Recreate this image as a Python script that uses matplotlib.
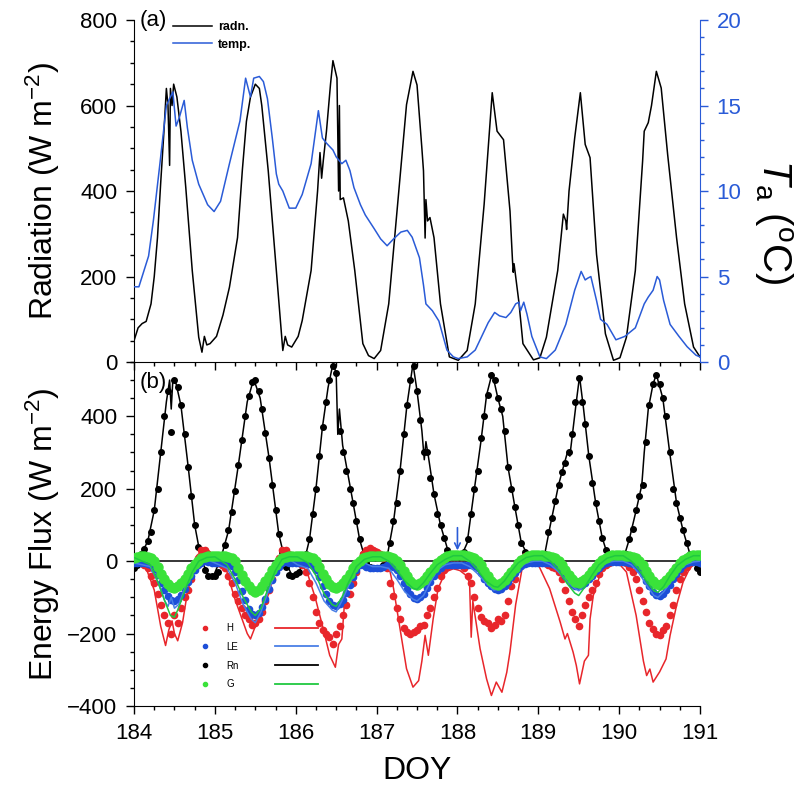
import numpy as np
import matplotlib
matplotlib.use('Agg')
import matplotlib.pyplot as plt
from matplotlib.ticker import MultipleLocator
from matplotlib.lines import Line2D

plt.rcParams['font.family'] = ['Liberation Sans', 'DejaVu Sans']
plt.rcParams['mathtext.fontset'] = 'custom'
plt.rcParams['mathtext.rm'] = 'Liberation Sans'
plt.rcParams['mathtext.it'] = 'Liberation Sans:italic'
plt.rcParams['mathtext.bf'] = 'Liberation Sans:bold'

# ---- panel (a): radiation (W m-2) and air temperature (C), (doy, value)
radn = [(184.00, 50), (184.05, 80), (184.10, 90), (184.15, 95), (184.21, 136), (184.25, 200),
        (184.29, 291), (184.33, 420), (184.37, 540), (184.40, 640), (184.42, 600), (184.44, 460),
        (184.45, 640), (184.47, 600), (184.49, 650), (184.53, 620), (184.58, 540), (184.64, 408),
        (184.72, 214), (184.80, 58), (184.84, 23), (184.87, 60), (184.90, 40), (184.94, 43),
        (185.02, 60), (185.10, 110), (185.18, 175), (185.28, 291), (185.34, 450), (185.39, 563),
        (185.44, 620), (185.50, 650), (185.55, 640), (185.58, 600), (185.66, 447), (185.76, 214),
        (185.84, 27), (185.87, 60), (185.90, 40), (185.95, 35), (186.03, 60), (186.08, 97),
        (186.19, 214), (186.27, 400), (186.30, 490), (186.32, 430), (186.34, 470), (186.38, 540),
        (186.43, 650), (186.46, 705), (186.51, 664), (186.53, 400), (186.54, 600), (186.55, 380),
        (186.59, 384), (186.65, 330), (186.73, 214), (186.83, 43), (186.90, 15), (186.97, 8),
        (187.05, 27), (187.15, 136), (187.26, 369), (187.37, 602), (187.45, 680), (187.50, 648),
        (187.56, 500), (187.58, 447), (187.60, 290), (187.61, 380), (187.63, 330), (187.66, 338),
        (187.71, 291), (187.79, 136), (187.90, 12), (188.01, 4), (188.12, 27), (188.22, 136),
        (188.33, 369), (188.43, 630), (188.49, 540), (188.53, 530), (188.57, 520), (188.65, 353),
        (188.68, 240), (188.69, 210), (188.70, 230), (188.76, 140), (188.81, 43), (188.94, 5),
        (189.02, 10), (189.10, 58), (189.24, 214), (189.31, 346), (189.34, 330), (189.35, 310),
        (189.38, 400), (189.45, 524), (189.52, 630), (189.58, 509), (189.64, 478), (189.72, 252),
        (189.83, 66), (189.93, 4), (190.01, 10), (190.09, 58), (190.20, 214), (190.29, 470),
        (190.31, 540), (190.36, 560), (190.40, 600), (190.46, 680), (190.52, 641), (190.60, 485),
        (190.71, 291), (190.81, 136), (190.92, 35), (191.00, 12)]

temp = [(184.00, 4.4), (184.06, 4.4), (184.12, 5.3), (184.18, 6.2), (184.24, 8.3), (184.32, 11.6),
        (184.40, 15.0), (184.45, 15.5), (184.48, 15.8), (184.52, 13.8), (184.56, 14.3), (184.62, 15.3),
        (184.66, 13.7), (184.72, 11.8), (184.80, 10.4), (184.91, 9.2), (184.99, 8.8), (185.07, 9.4),
        (185.18, 11.6), (185.31, 14.1), (185.38, 16.6), (185.44, 15.5), (185.48, 16.6), (185.55, 16.7),
        (185.60, 16.4), (185.65, 15.4), (185.71, 13.1), (185.76, 11.0), (185.79, 10.4), (185.84, 10.0),
        (185.92, 9.0), (186.00, 9.0), (186.08, 9.8), (186.19, 11.6), (186.28, 14.7), (186.33, 13.1),
        (186.38, 12.8), (186.46, 12.4), (186.50, 12.0), (186.57, 11.6), (186.62, 11.8), (186.67, 11.2),
        (186.72, 10.2), (186.80, 9.2), (186.86, 8.6), (186.97, 7.8), (187.05, 7.2), (187.13, 6.8),
        (187.21, 7.2), (187.30, 7.6), (187.38, 7.7), (187.44, 7.3), (187.53, 6.1), (187.58, 4.5),
        (187.61, 3.4), (187.69, 3.0), (187.77, 2.4), (187.87, 0.7), (187.95, 0.3), (188.01, 0.2),
        (188.12, 0.3), (188.22, 0.7), (188.30, 1.5), (188.38, 2.3), (188.46, 2.9), (188.52, 2.7),
        (188.60, 2.6), (188.66, 2.9), (188.72, 3.4), (188.76, 3.5), (188.78, 3.0), (188.82, 3.5),
        (188.86, 2.8), (188.92, 1.5), (189.02, 0.3), (189.10, 0.2), (189.21, 0.7), (189.34, 2.2),
        (189.45, 4.2), (189.53, 5.3), (189.58, 4.8), (189.61, 4.9), (189.65, 5.0), (189.72, 3.6),
        (189.77, 2.5), (189.85, 2.2), (189.96, 1.3), (190.07, 1.5), (190.20, 2.0), (190.31, 3.4),
        (190.36, 3.8), (190.42, 4.2), (190.47, 5.0), (190.50, 4.8), (190.55, 3.6), (190.63, 2.2),
        (190.74, 1.5), (190.84, 0.9), (190.95, 0.4), (191.00, 0.3)]

# ---- panel (b): hourly observations, DOY 184.00 ... 191.00
hours = 184 + np.arange(169) / 24.0

rn_obs = [-20, -10, 20, 34, 55, 80, 140, 200, 300, 400, 470, 356, 500, 480, 430, 350, 260, 180, 100, 40, 5, -25, -40, -42,
          -40, -30, 15, 45, 85, 135, 195, 265, 335, 400, 455, 495, 500, 470, 420, 355, 285, 210, 140, 75, 25, -15, -38, -40,
          -35, -30, -10, 20, 60, 130, 200, 290, 370, 440, 500, 540, 520, 360, 300, 250, 200, 160, 110, 60, 20, -5, -15, -20,
          -20, -20, -10, 5, 50, 110, 160, 250, 350, 430, 500, 540, 470, 390, 300, 300, 230, 185, 130, 100, 65, 30, 18, 16,
          15, 15, 25, 60, 130, 200, 250, 340, 400, 460, 515, 500, 450, 420, 360, 260, 200, 150, 100, 50, 25, 15, 12, 12,
          12, 12, 20, 80, 120, 165, 210, 245, 270, 300, 350, 440, 505, 440, 380, 290, 215, 160, 110, 65, 30, 15, 5, 5,
          5, 5, 20, 60, 90, 140, 180, 210, 330, 430, 490, 513, 490, 450, 400, 300, 200, 160, 120, 85, 50, 20, 0, -20,
          -30]

h_obs = [0, 0, -5, -10, -20, -40, -60, -90, -120, -150, -170, -200, -150, -170, -130, -100, -80, -50, -20, 10, 30, 30, 20, 5,
         0, -5, -10, -20, -40, -60, -90, -110, -130, -150, -160, -175, -170, -160, -140, -110, -80, -50, -20, 10, 30, 30, 15, 5,
         0, -5, -10, -30, -60, -100, -140, -170, -190, -200, -210, -230, -200, -180, -150, -120, -90, -60, -30, 0, 20, 30, 35, 30,
         25, 20, 10, -20, -60, -95, -130, -160, -185, -195, -200, -195, -190, -180, -175, -150, -130, -100, -75, -40, -25, -15, -10, -10,
         -10, -10, -20, -40, -60, -100, -130, -155, -165, -170, -185, -175, -160, -165, -150, -110, -70, -50, -20, 5, 15, 15, 10, 5,
         5, 0, -5, -10, -15, -20, -30, -50, -80, -110, -140, -160, -178, -150, -120, -100, -80, -60, -35, -20, -10, -5, 0, 0,
         0, 0, -5, -15, -30, -50, -80, -110, -141, -170, -187, -200, -205, -190, -178, -150, -122, -80, -49, -30, -15, -5, 0, 0,
         0]

le_obs = [-5, -5, -5, -5, -8, -12, -22, -38, -60, -80, -95, -108, -110, -104, -94, -78, -58, -40, -24, -12, -5, 0, -2, -5,
          -5, -5, -5, -5, -8, -14, -30, -52, -82, -108, -132, -147, -150, -142, -128, -105, -78, -52, -30, -15, -5, -3, -5, -5,
          -5, -5, -5, -5, -8, -14, -25, -45, -70, -90, -110, -122, -125, -118, -106, -88, -65, -45, -25, -12, -10, -15, -20, -20,
          -20, -20, -15, -10, -10, -15, -25, -40, -60, -78, -92, -102, -105, -100, -90, -75, -58, -42, -28, -18, -12, -10, -10, -10,
          -10, -10, -10, -10, -10, -14, -20, -32, -48, -60, -70, -78, -80, -76, -68, -58, -45, -32, -22, -14, -8, -5, -5, -5,
          -5, -5, -5, -5, -8, -12, -18, -28, -40, -52, -62, -68, -70, -66, -60, -50, -40, -28, -18, -10, -5, -3, -3, -3,
          -3, -3, -3, -5, -8, -12, -22, -36, -54, -70, -84, -93, -95, -90, -80, -66, -50, -35, -22, -12, -6, -3, -2, -2,
          -5]

g_obs = [10, 12, 15, 15, 12, 8, 0, -15, -35, -50, -62, -72, -75, -70, -60, -48, -35, -20, -8, 0, 8, 12, 15, 15,
         15, 15, 15, 15, 12, 8, 0, -18, -38, -55, -70, -80, -85, -80, -70, -56, -40, -25, -10, 0, 8, 12, 15, 15,
         15, 15, 15, 15, 12, 8, 0, -15, -35, -50, -62, -72, -75, -70, -60, -48, -35, -20, -8, 0, 8, 12, 15, 15,
         15, 15, 15, 15, 12, 8, 0, -12, -28, -42, -55, -62, -65, -60, -52, -42, -30, -18, -6, 2, 10, 15, 18, 18,
         18, 18, 18, 15, 12, 8, 0, -12, -28, -42, -55, -62, -65, -60, -52, -42, -30, -18, -6, 2, 10, 15, 18, 18,
         18, 18, 15, 15, 12, 8, 0, -10, -25, -38, -50, -57, -60, -56, -48, -38, -27, -15, -5, 2, 10, 15, 18, 18,
         18, 18, 15, 15, 12, 8, 0, -12, -28, -42, -55, -62, -65, -60, -52, -42, -30, -18, -6, 2, 10, 15, 18, 18,
         18]

# ---- panel (b): modelled fluxes, (doy, value)
rn_mod = [(184.00, -20), (184.08, 15), (184.17, 55), (184.25, 140), (184.33, 300), (184.40, 440), (184.44, 500),
          (184.46, 420), (184.48, 500), (184.52, 490), (184.58, 430), (184.67, 260), (184.75, 100), (184.83, 5),
          (184.92, -40), (184.98, -42), (185.07, 5), (185.17, 85), (185.29, 265), (185.40, 440), (185.48, 503),
          (185.56, 450), (185.67, 285), (185.79, 75), (185.87, 0), (185.95, -38), (186.02, -35), (186.10, -5),
          (186.17, 60), (186.25, 200), (186.33, 370), (186.40, 480), (186.46, 545), (186.50, 520), (186.52, 350),
          (186.54, 420), (186.58, 320), (186.71, 160), (186.79, 60), (186.86, 5), (186.95, -20), (187.05, -20),
          (187.12, 0), (187.21, 110), (187.29, 250), (187.375, 430), (187.45, 545), (187.50, 470), (187.56, 360),
          (187.59, 280), (187.61, 330), (187.64, 290), (187.71, 185), (187.79, 100), (187.875, 35), (187.95, 16),
          (188.05, 15), (188.12, 50), (188.21, 200), (188.29, 330), (188.36, 458), (188.43, 520), (188.50, 450),
          (188.56, 400), (188.625, 260), (188.71, 150), (188.79, 50), (188.875, 15), (189.00, 12), (189.08, 20),
          (189.14, 90), (189.25, 210), (189.31, 260), (189.36, 300), (189.39, 290), (189.47, 440), (189.51, 510),
          (189.56, 420), (189.625, 290), (189.71, 160), (189.79, 65), (189.86, 15), (189.95, 5), (190.05, 5),
          (190.125, 60), (190.21, 140), (190.28, 210), (190.31, 300), (190.36, 420), (190.42, 490), (190.46, 515),
          (190.54, 450), (190.625, 300), (190.71, 160), (190.79, 85), (190.875, 20), (190.92, 0), (191.00, -30)]

h_mod = [(184.00, 0), (184.15, -20), (184.25, -80), (184.33, -180), (184.39, -233), (184.43, -190), (184.47, -165),
         (184.50, -200), (184.54, -220), (184.60, -170), (184.65, -100), (184.70, -49), (184.78, 16), (184.85, 30),
         (184.93, 28), (185.00, 5), (185.07, 0), (185.15, -30), (185.24, -100), (185.32, -150), (185.40, -200),
         (185.44, -215), (185.50, -180), (185.57, -150), (185.65, -100), (185.73, -40), (185.79, 0), (185.85, 30),
         (185.94, 25), (186.02, 5), (186.14, -30), (186.24, -100), (186.34, -187), (186.42, -260), (186.49, -293),
         (186.53, -230), (186.57, -215), (186.61, -95), (186.67, -40), (186.75, -12), (186.84, 6), (186.92, 30),
         (187.00, 34), (187.08, 20), (187.14, 0), (187.21, -76), (187.29, -187), (187.37, -297), (187.45, -348),
         (187.52, -330), (187.56, -276), (187.60, -205), (187.64, -260), (187.70, -159), (187.76, -76), (187.85, -30),
         (187.95, -21), (188.03, -26), (188.11, -40), (188.15, -60), (188.17, -210), (188.19, -110), (188.28, -242),
         (188.36, -325), (188.42, -371), (188.48, -334), (188.55, -362), (188.61, -307), (188.65, -250), (188.72, -120),
         (188.80, -20), (188.85, 10), (188.90, 20), (188.95, 0), (189.00, -10), (189.14, -76), (189.27, -168),
         (189.33, -215), (189.36, -200), (189.43, -251), (189.47, -288), (189.51, -339), (189.57, -276), (189.62, -260),
         (189.64, -160), (189.68, -95), (189.76, -40), (189.84, -7), (189.97, 0), (190.09, -30), (190.21, -150),
         (190.30, -276), (190.34, -316), (190.38, -298), (190.42, -334), (190.50, -306), (190.58, -270), (190.63, -205),
         (190.71, -122), (190.79, -58), (190.87, -21), (190.96, 0), (191.00, 0)]

le_mod = [(184.00, -5), (184.20, -15), (184.30, -60), (184.38, -110), (184.42, -125), (184.46, -100), (184.50, -130),
          (184.55, -120), (184.62, -80), (184.72, -30), (184.80, 0), (184.90, 5), (185.00, -5), (185.15, -20),
          (185.25, -60), (185.35, -120), (185.45, -160), (185.50, -170), (185.57, -140), (185.65, -90), (185.75, -30),
          (185.83, 0), (185.92, 5), (186.02, -10), (186.15, -20), (186.25, -60), (186.35, -110), (186.45, -135),
          (186.50, -140), (186.57, -110), (186.65, -70), (186.75, -25), (186.85, -5), (186.95, -15), (187.05, -15),
          (187.15, -20), (187.25, -50), (187.35, -85), (187.45, -105), (187.50, -110), (187.58, -95), (187.66, -60),
          (187.75, -25), (187.85, -10), (187.95, -5), (188.05, -5), (188.15, -15), (188.25, -35), (188.35, -60),
          (188.45, -80), (188.50, -78), (188.58, -65), (188.66, -45), (188.75, -20), (188.85, -5), (188.95, 0),
          (189.05, 0), (189.15, -10), (189.25, -30), (189.35, -55), (189.45, -75), (189.50, -82), (189.58, -65),
          (189.66, -40), (189.75, -15), (189.85, -3), (189.95, 0), (190.05, 0), (190.15, -10), (190.25, -35),
          (190.35, -70), (190.43, -95), (190.48, -100), (190.55, -85), (190.63, -60), (190.72, -30), (190.82, -10),
          (190.92, -2), (191.00, 0)]

g_mod = [(184.00, 10), (184.20, -10), (184.30, -60), (184.38, -110), (184.45, -150), (184.50, -155), (184.55, -130),
         (184.63, -80), (184.72, -30), (184.80, 0), (184.90, 10), (185.00, 12), (185.15, -10), (185.25, -50),
         (185.35, -100), (185.45, -140), (185.50, -150), (185.57, -130), (185.65, -80), (185.75, -25), (185.83, 5),
         (185.92, 12), (186.02, 12), (186.15, -5), (186.25, -40), (186.35, -90), (186.45, -120), (186.50, -125),
         (186.57, -100), (186.65, -60), (186.75, -15), (186.85, 5), (186.95, 12), (187.05, 12), (187.15, 0),
         (187.25, -25), (187.35, -55), (187.45, -75), (187.50, -78), (187.58, -60), (187.66, -35), (187.75, -10),
         (187.85, 5), (187.95, 15), (188.05, 15), (188.15, 0), (188.25, -25), (188.35, -55), (188.45, -70),
         (188.50, -72), (188.58, -55), (188.66, -30), (188.75, -5), (188.85, 10), (188.95, 15), (189.05, 15),
         (189.15, 0), (189.25, -25), (189.35, -60), (189.45, -88), (189.50, -95), (189.58, -70), (189.66, -40),
         (189.75, -10), (189.85, 8), (189.95, 15), (190.05, 15), (190.15, 0), (190.25, -25), (190.35, -60),
         (190.43, -82), (190.48, -86), (190.55, -70), (190.63, -40), (190.72, -12), (190.82, 5), (190.92, 15),
         (191.00, 15)]

RED = '#e8262b'
BLUE_DOT = '#1d4fd8'
BLUE_LINE = '#4a7fe6'
GREEN_DOT = '#3ae23a'
GREEN_LINE = '#20c840'
TBLUE = '#2a5bd7'


def xy(pairs):
    a = np.array(pairs, dtype=float)
    return a[:, 0], a[:, 1]


fig = plt.figure(figsize=(8.06, 7.86), dpi=100)
ax1 = fig.add_axes([0.1663, 0.5394, 0.7022, 0.4351])
ax1r = ax1.twinx()
ax2 = fig.add_axes([0.1663, 0.1018, 0.7022, 0.4377])
ax2.set_facecolor('none')

# (a)
l_rad, = ax1.plot(*xy(radn), color='black', lw=1.1, label='radn.')
l_tmp, = ax1r.plot(*xy(temp), color=TBLUE, lw=1.1, label='temp.')
ax1.set_xlim(184, 191)
ax1.set_ylim(0, 800)
ax1r.set_ylim(0, 20)

for s in ['top', 'right']:
    ax1.spines[s].set_visible(False)
for s in ['top', 'left', 'bottom']:
    ax1r.spines[s].set_visible(False)
ax1r.spines['right'].set_color(TBLUE)

ax1.xaxis.set_major_locator(MultipleLocator(1))
ax1.xaxis.set_minor_locator(MultipleLocator(0.25))
ax1.yaxis.set_major_locator(MultipleLocator(200))
ax1.yaxis.set_minor_locator(MultipleLocator(50))
ax1r.yaxis.set_major_locator(MultipleLocator(5))
ax1r.yaxis.set_minor_locator(MultipleLocator(1))
ax1.tick_params(which='major', direction='out', length=6, width=1, labelsize=16, pad=6)
ax1.tick_params(which='minor', direction='out', length=3, width=1)
ax1.tick_params(axis='x', labelbottom=False)
ax1r.tick_params(which='major', direction='out', length=6, width=1, labelsize=16, pad=6,
                 colors=TBLUE)
ax1r.tick_params(which='minor', direction='out', length=3, width=1, colors=TBLUE)

ax1.set_ylabel('Radiation (W m$^{-2}$)', fontsize=23)
ax1.yaxis.set_label_coords(-0.127, 0.5)
ax1r.set_ylabel(r'$\mathit{T}_{\mathrm{a}}$ ($^{\mathrm{o}}$C)', fontsize=29, rotation=270,
                va='center')
ax1r.yaxis.set_label_coords(1.13, 0.41)

ax1.text(0.01, 1.0, '(a)', transform=ax1.transAxes, fontsize=16, va='center', ha='left')
ax1r.legend(handles=[l_rad, l_tmp], loc='upper left', bbox_to_anchor=(0.069, 0.997),
            frameon=False, borderpad=0, borderaxespad=0, handlelength=3.1, handletextpad=0.5,
            labelspacing=0.44, prop={'size': 9, 'weight': 'bold'})

# (b)
ax2.axhline(0, color='black', lw=1.1, zorder=1)
ax2.plot(hours, rn_obs, 'o', color='black', ms=4, zorder=2)
ax2.plot(*xy(rn_mod), color='black', lw=1.1, zorder=2)
ax2.plot(hours, h_obs, 'o', color=RED, ms=4.5, zorder=3)
ax2.plot(*xy(h_mod), color=RED, lw=1.1, zorder=3)
ax2.plot(hours, le_obs, 'o', color=BLUE_DOT, ms=4.5, zorder=4)
ax2.plot(*xy(le_mod), color=BLUE_LINE, lw=1.1, zorder=4)
ax2.plot(hours, g_obs, 'o', color=GREEN_DOT, ms=6.5, zorder=5)
ax2.plot(*xy(g_mod), color=GREEN_LINE, lw=1.1, zorder=5)

ax2.annotate('', xy=(188.0, 22), xytext=(188.0, 100),
             arrowprops=dict(arrowstyle='->', color=TBLUE, lw=1.2))

ax2.set_xlim(184, 191)
ax2.set_ylim(-400, 550)
for s in ['top', 'right']:
    ax2.spines[s].set_visible(False)
ax2.xaxis.set_major_locator(MultipleLocator(1))
ax2.xaxis.set_minor_locator(MultipleLocator(0.25))
ax2.yaxis.set_major_locator(MultipleLocator(200))
ax2.yaxis.set_minor_locator(MultipleLocator(50))
ax2.tick_params(which='major', direction='out', length=6, width=1, labelsize=16, pad=6)
ax2.tick_params(which='minor', direction='out', length=3, width=1)
ax2.set_ylabel('Energy Flux (W m$^{-2}$)', fontsize=23)
ax2.yaxis.set_label_coords(-0.127, 0.5)
ax2.set_xlabel('DOY', fontsize=23, va='top')
ax2.xaxis.set_label_coords(0.5, -0.145)
ax2.text(0.01, 0.94, '(b)', transform=ax2.transAxes, fontsize=16, va='center', ha='left')

dot_handles = [Line2D([], [], ls='none', marker='o', color=c, ms=3)
               for c in [RED, BLUE_DOT, 'black', GREEN_DOT]]
line_handles = [Line2D([], [], color=c, lw=1.3)
                for c in [RED, BLUE_LINE, 'black', GREEN_LINE]]
leg1 = ax2.legend(dot_handles, ['H', 'LE', 'Rn', 'G'], loc='upper left',
                  bbox_to_anchor=(0.118, 0.241), frameon=False, borderpad=0, borderaxespad=0,
                  handlelength=0.8, handletextpad=1.8, labelspacing=0.9, fontsize=7,
                  numpoints=1)
ax2.add_artist(leg1)
ax2.legend(line_handles, ['', '', '', ''], loc='upper left', bbox_to_anchor=(0.249, 0.241),
           frameon=False, borderpad=0, borderaxespad=0, handlelength=4.4, handletextpad=0,
           labelspacing=0.9, fontsize=7)

fig.savefig('out.png', dpi=100)
